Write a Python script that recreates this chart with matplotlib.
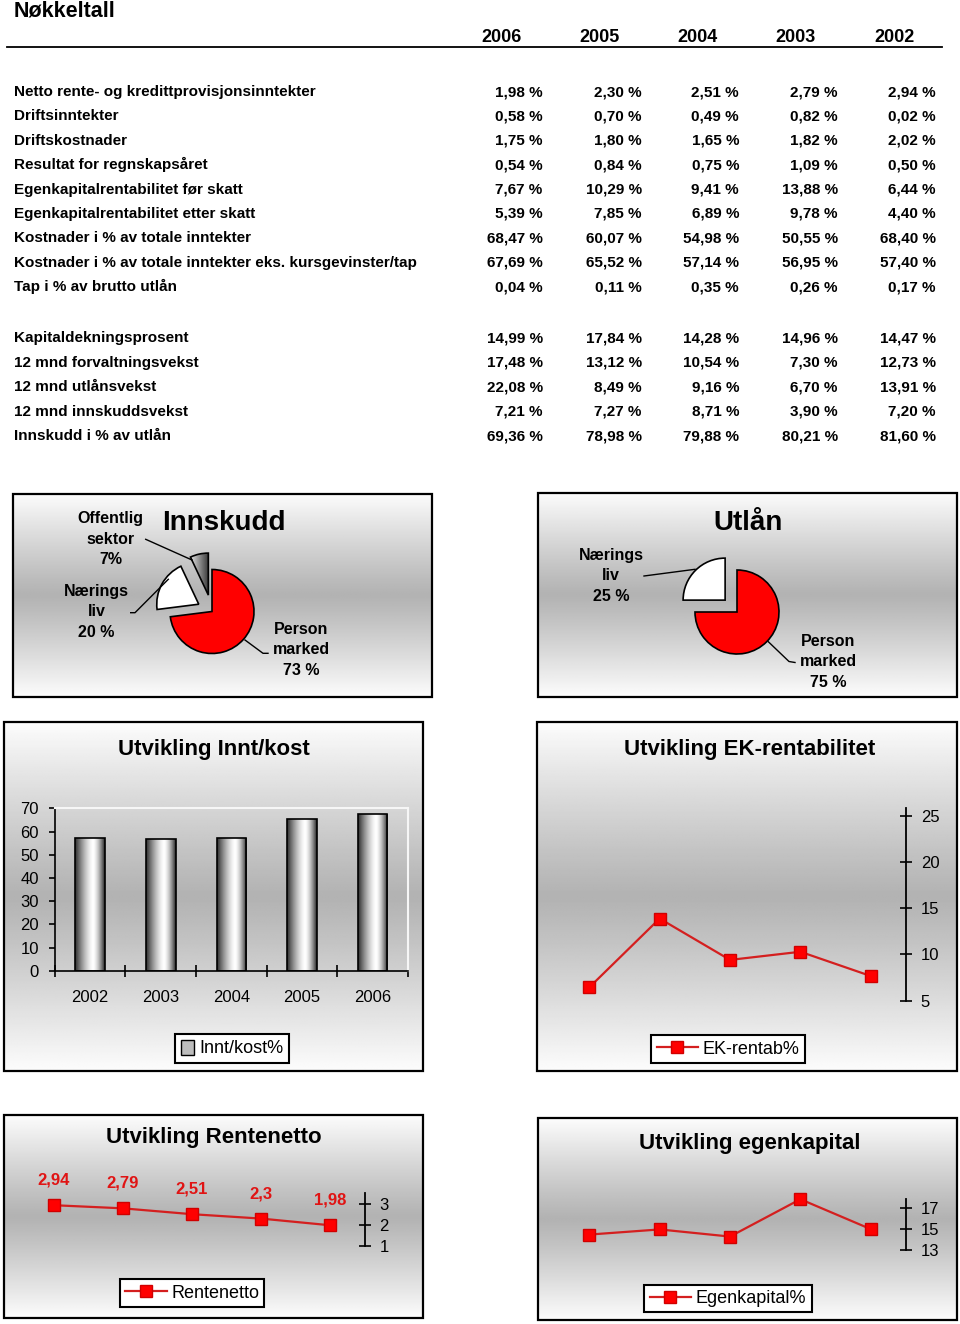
import numpy as np
import matplotlib
matplotlib.use('Agg')
import matplotlib.pyplot as plt
from matplotlib.patches import Rectangle, Patch
from matplotlib.lines import Line2D

plt.rcParams['font.family'] = ['Liberation Sans', 'DejaVu Sans']

W, H = 960, 1324

# ---------------- data ----------------
table_title = 'Nøkkeltall'
table_years = ['2006', '2005', '2004', '2003', '2002']

rows_1 = ['Netto rente- og kredittprovisjonsinntekter', 'Driftsinntekter', 'Driftskostnader',
          'Resultat for regnskapsåret', 'Egenkapitalrentabilitet før skatt',
          'Egenkapitalrentabilitet etter skatt', 'Kostnader i % av totale inntekter',
          'Kostnader i % av totale inntekter eks. kursgevinster/tap', 'Tap i % av brutto utlån']
vals_1 = [[1.98, 2.30, 2.51, 2.79, 2.94],
          [0.58, 0.70, 0.49, 0.82, 0.02],
          [1.75, 1.80, 1.65, 1.82, 2.02],
          [0.54, 0.84, 0.75, 1.09, 0.50],
          [7.67, 10.29, 9.41, 13.88, 6.44],
          [5.39, 7.85, 6.89, 9.78, 4.40],
          [68.47, 60.07, 54.98, 50.55, 68.40],
          [67.69, 65.52, 57.14, 56.95, 57.40],
          [0.04, 0.11, 0.35, 0.26, 0.17]]

rows_2 = ['Kapitaldekningsprosent', '12 mnd forvaltningsvekst', '12 mnd utlånsvekst',
          '12 mnd innskuddsvekst', 'Innskudd i % av utlån']
vals_2 = [[14.99, 17.84, 14.28, 14.96, 14.47],
          [17.48, 13.12, 10.54, 7.30, 12.73],
          [22.08, 8.49, 9.16, 6.70, 13.91],
          [7.21, 7.27, 8.71, 3.90, 7.20],
          [69.36, 78.98, 79.88, 80.21, 81.60]]

innskudd_labels = ['Person\nmarked\n73 %', 'Nærings\nliv\n20 %', 'Offentlig\nsektor\n7%']
innskudd_shares = [73, 20, 7]
utlan_labels = ['Person\nmarked\n75 %', 'Nærings\nliv\n25 %']
utlan_shares = [75, 25]

chart_years = ['2002', '2003', '2004', '2005', '2006']
innt_kost = [57.40, 56.95, 57.14, 65.52, 67.69]
ek_rentab = [6.44, 13.88, 9.41, 10.29, 7.67]
rentenetto = [2.94, 2.79, 2.51, 2.3, 1.98]
egenkapital = [14.47, 14.96, 14.28, 17.84, 14.99]

RED = '#ff0000'
LINE_RED = '#d41f1f'
LABEL_RED = '#e01414'


def fx(x):
    return x / W


def fy(y):
    return 1 - y / H


def rect(x0, y0, x1, y1):
    return [fx(x0), fy(y1), (x1 - x0) / W, (y1 - y0) / H]


fig = plt.figure(figsize=(W / 100, H / 100), dpi=100)
fig.patch.set_facecolor('white')

# ---------------- table ----------------
fig.text(fx(14), fy(16.7), table_title, fontsize=15.5, weight='bold', va='baseline', ha='left')
fig.add_artist(Line2D([fx(7), fx(942)], [fy(46.7)] * 2, transform=fig.transFigure,
                      color='black', lw=1.3))
year_cx = [501.7, 600, 697.5, 796, 894.5]
val_rx = [542.7, 641.7, 739, 837.7, 935.7]
for yr, cx in zip(table_years, year_cx):
    fig.text(fx(cx), fy(41.7), yr, fontsize=13, weight='bold', ha='center', va='baseline')


def fmt_pct(v):
    return f'{v:.2f}'.replace('.', ',') + ' %'


def draw_rows(labels, values, y_start, step):
    for i, (lab, vals) in enumerate(zip(labels, values)):
        yb = y_start + i * step + 5.4
        fig.text(fx(14), fy(yb), lab, fontsize=11, weight='bold', ha='left', va='baseline')
        for v, rx in zip(vals, val_rx):
            fig.text(fx(rx), fy(yb), fmt_pct(v), fontsize=11, weight='bold',
                     ha='right', va='baseline')


draw_rows(rows_1, vals_1, 90.7, 24.37)
draw_rows(rows_2, vals_2, 336.7, 24.5)


# ---------------- panels ----------------
def panel(x0, y0, x1, y1):
    ax = fig.add_axes(rect(x0, y0, x1, y1), zorder=0)
    t = np.linspace(0, 1, 300)[:, None]
    v = 0.70 + 0.29 * np.abs(2 * t - 1) ** 1.1
    ax.imshow(np.repeat(v, 2, axis=1), cmap='gray', vmin=0, vmax=1, aspect='auto',
              extent=[0, 1, 0, 1], interpolation='bilinear')
    ax.set_xlim(0, 1)
    ax.set_ylim(0, 1)
    ax.set_axis_off()
    ax.add_patch(Rectangle((0, 0), 1, 1, transform=ax.transAxes, fill=False,
                           edgecolor='black', lw=1.6, clip_on=False))
    return ax


panel(13, 494, 432, 697)
panel(538, 493, 957, 697)
panel(4, 722, 423, 1071)
panel(537, 722, 957, 1071)
panel(4, 1115, 423, 1318)
panel(538, 1118, 957, 1320)


# ---------------- pies ----------------
def pie_axes(cx, cy, r):
    ax = fig.add_axes(rect(cx - 2 * r, cy - 2 * r, cx + 2 * r, cy + 2 * r), zorder=2)
    ax.set_facecolor('none')
    return ax


def line_px(points, lw=1.0):
    xs = [fx(p[0]) for p in points]
    ys = [fy(p[1]) for p in points]
    fig.add_artist(Line2D(xs, ys, transform=fig.transFigure, color='black', lw=lw, zorder=5))


pie_font = dict(fontsize=11.5, weight='bold', ha='center', va='center', linespacing=1.45)

# Innskudd
axp1 = pie_axes(212, 611.5, 42)
wedges1, _ = axp1.pie(innskudd_shares, colors=[RED, 'white', 'none'], startangle=90,
                      counterclock=False, explode=[0, 0.36, 0.4], radius=1,
                      wedgeprops=dict(edgecolor='black', linewidth=1.2))
gw = wedges1[2]
bb = gw.get_path().get_extents()
gx = np.linspace(0, 1, 64)[None, :]
gvals = 0.9 - 0.65 * gx
im = axp1.imshow(np.repeat(gvals, 2, axis=0), cmap='gray', vmin=0, vmax=1, aspect='auto',
                 extent=[bb.x0, bb.x1, bb.y0, bb.y1], zorder=0.5, interpolation='bilinear')
im.set_clip_path(gw)
axp1.set_xlim(-2, 2)
axp1.set_ylim(-2, 2)
axp1.set_axis_off()
fig.text(fx(224), fy(523.3), 'Innskudd', fontsize=20, weight='bold', ha='center', va='center')
fig.text(fx(110.5), fy(539), innskudd_labels[2], **pie_font)
fig.text(fx(96.5), fy(612), innskudd_labels[1], **pie_font)
fig.text(fx(301), fy(650), innskudd_labels[0], **pie_font)
line_px([(145.7, 539.3), (192, 560)])
line_px([(130.7, 612.7), (135, 612.7), (168.3, 579.3)])
line_px([(245, 640), (263, 653.3), (268, 653.3)])

# Utlån
axp2 = pie_axes(737, 612, 42)
axp2.pie(utlan_shares, colors=[RED, 'white'], startangle=90, counterclock=False,
         explode=[0, 0.4], radius=1, wedgeprops=dict(edgecolor='black', linewidth=1.2))
axp2.set_xlim(-2, 2)
axp2.set_ylim(-2, 2)
axp2.set_axis_off()
fig.text(fx(748.3), fy(523.3), 'Utlån', fontsize=20, weight='bold', ha='center', va='center')
fig.text(fx(611), fy(576), utlan_labels[1], **pie_font)
fig.text(fx(828), fy(662), utlan_labels[0], **pie_font)
line_px([(644, 576), (695, 569.3)])
line_px([(768.3, 641.7), (789, 661.5), (795, 662.5)])

# ---------------- bar chart ----------------
x = np.arange(len(chart_years))
ax1 = fig.add_axes(rect(54.8, 808.3, 407.9, 970.7), zorder=2)
ax1.set_facecolor('none')
bars = ax1.bar(x, innt_kost, width=0.42, color='none', edgecolor='black', linewidth=1.2, zorder=3)
t = np.linspace(0, 1, 80)
prof = np.where(t < 0.6, 1 - 0.82 * ((0.6 - t) / 0.6) ** 1.4, 1 - 0.85 * ((t - 0.6) / 0.4) ** 1.6)
for b in bars:
    imb = ax1.imshow(prof[None, :], cmap='gray', vmin=0, vmax=1, aspect='auto',
                     extent=[b.get_x(), b.get_x() + b.get_width(), 0, b.get_height()],
                     zorder=2, interpolation='bilinear')
    imb.set_clip_path(b)
ax1.set_xlim(-0.5, 4.5)
ax1.set_ylim(0, 70)
ax1.set_yticks(np.arange(0, 71, 10))
ax1.set_xticks(x)
ax1.set_xticklabels(chart_years)
ax1.set_xticks(np.arange(-0.5, 5, 1), minor=True)
ax1.tick_params(axis='x', which='major', length=0, pad=14, labelsize=12)
ax1.tick_params(axis='x', which='minor', direction='inout', length=8, width=1.2)
ax1.tick_params(axis='y', direction='out', length=4.5, width=1.2, pad=7, labelsize=12)
for s in ['left', 'bottom']:
    ax1.spines[s].set_linewidth(1.2)
for s in ['top', 'right']:
    ax1.spines[s].set_color('#f6f6f6')
    ax1.spines[s].set_linewidth(1.5)
fig.text(fx(214), fy(750), 'Utvikling Innt/kost', fontsize=16, weight='bold', ha='center', va='center')
leg1 = fig.legend(handles=[Patch(facecolor='#bdbdbd', edgecolor='black', label='Innt/kost%')],
                  loc='center', bbox_to_anchor=(fx(232), fy(1048.5)), fancybox=False,
                  edgecolor='black', framealpha=1, fontsize=13, handlelength=0.75,
                  handleheight=0.9, handletextpad=0.25, borderpad=0.3)
leg1.get_frame().set_linewidth(1.5)


# ---------------- line charts ----------------
def line_chart(r, values, ylim, yticks, label):
    ax = fig.add_axes(r, zorder=2)
    ax.set_facecolor('none')
    ln, = ax.plot(x, values, color=LINE_RED, lw=1.6, marker='s', ms=8.5,
                  mfc=RED, mec='#d00000', label=label, clip_on=False)
    ax.set_xlim(-0.5, 4.5)
    ax.set_ylim(*ylim)
    ax.set_yticks(yticks)
    ax.set_xticks([])
    ax.yaxis.tick_right()
    ax.tick_params(axis='y', direction='inout', length=8.5, width=1.2, pad=6.5, labelsize=12)
    for s in ['left', 'top', 'bottom']:
        ax.spines[s].set_visible(False)
    ax.spines['right'].set_linewidth(1.3)
    return ax, ln


def line_legend(ln, cx, cy):
    leg = fig.legend(handles=[ln], loc='center', bbox_to_anchor=(fx(cx), fy(cy)), fancybox=False,
                     edgecolor='black', framealpha=1, fontsize=13, handlelength=2.3,
                     handletextpad=0.25, borderpad=0.3)
    leg.get_frame().set_linewidth(1.5)


ax2, ln2 = line_chart(rect(554.1, 808.3, 905.9, 1000.7), ek_rentab, (5, 25.8),
                      [5, 10, 15, 20, 25], 'EK-rentab%')
fig.text(fx(749.5), fy(750), 'Utvikling EK-rentabilitet', fontsize=16, weight='bold',
         ha='center', va='center')
line_legend(ln2, 728, 1049)

ax3, ln3 = line_chart(rect(19.5, 1192.7, 364.5, 1245.7), rentenetto, (1, 3.54), [1, 2, 3],
                      'Rentenetto')
for i, v in enumerate(rentenetto):
    ax3.annotate(f'{v:g}'.replace('.', ','), (x[i], v), xytext=(0, 18), textcoords='offset points',
                 ha='center', va='center', color=LABEL_RED, weight='bold', fontsize=12,
                 annotation_clip=False)
fig.text(fx(214), fy(1138), 'Utvikling Rentenetto', fontsize=16, weight='bold',
         ha='center', va='center')
line_legend(ln3, 192, 1293)

ax4, ln4 = line_chart(rect(554.1, 1199, 905.9, 1250), egenkapital, (13, 17.86), [13, 15, 17],
                      'Egenkapital%')
fig.text(fx(749.5), fy(1143.5), 'Utvikling egenkapital', fontsize=16, weight='bold',
         ha='center', va='center')
line_legend(ln4, 728, 1298.5)

fig.savefig('out.png', dpi=100)
